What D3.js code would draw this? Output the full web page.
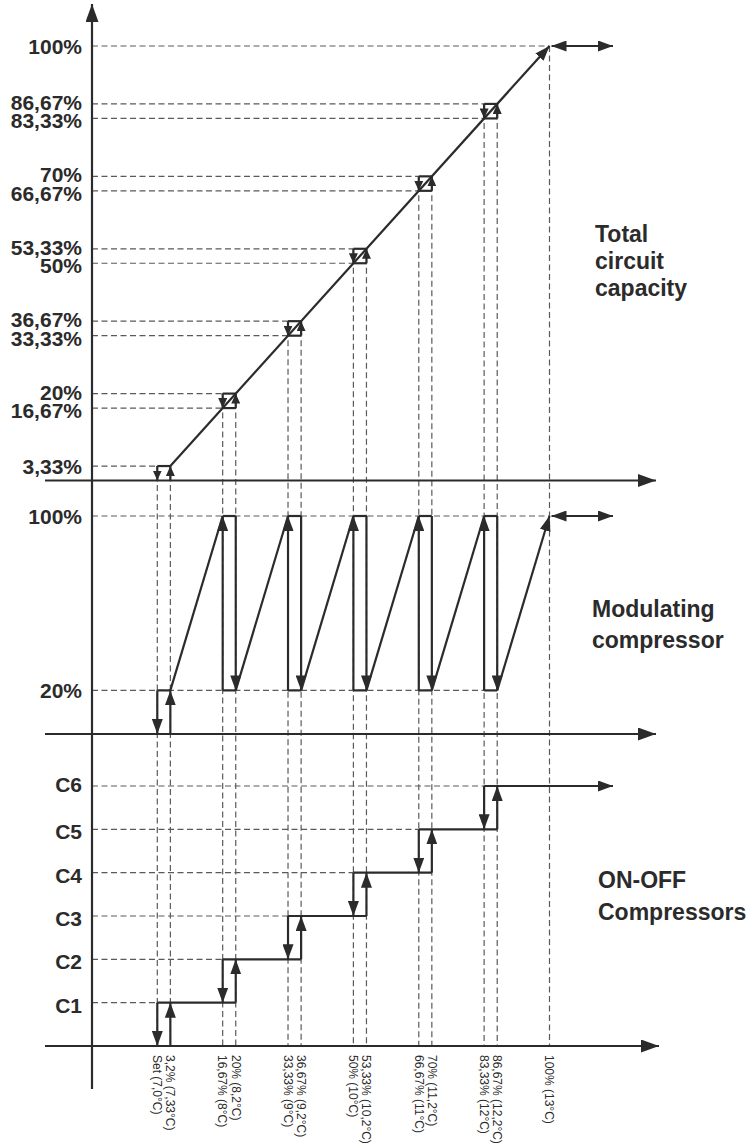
<!DOCTYPE html>
<html>
<head>
<meta charset="utf-8">
<script src="https://cdn.jsdelivr.net/npm/d3@7"></script>
<style>
  body { margin: 0; background: #fff; }
  svg { display: block; font-family: "Liberation Sans", Arial, sans-serif; }
  .dash { stroke: #5a5a5a; stroke-width: 1.2; stroke-dasharray: 6 3.5; fill: none; }
  .solid { stroke: #2b2b2b; stroke-width: 2.2; fill: none; }
  .tick-label { font-size: 21px; font-weight: bold; fill: #2b2b2b; }
  .title { font-size: 23px; font-weight: bold; fill: #2b2b2b; }
  .x-label { font-size: 12px; fill: #2b2b2b; }
</style>
</head>
<body>
<div id="wrapper"></div>
<script>
// capacity thresholds (% of total circuit capacity)
const capLow = [0, 16.67, 33.33, 50, 66.67, 83.33]
const capHigh = [3.33, 20, 36.67, 53.33, 70, 86.67]
const capFull = 100

const capTicks = [3.33, 16.67, 20, 33.33, 36.67, 50, 53.33, 66.67, 70, 83.33, 86.67, 100]
const capTickLabels = ["3,33%", "16,67%", "20%", "33,33%", "36,67%", "50%", "53,33%", "66,67%", "70%", "83,33%", "86,67%", "100%"]

const modMin = 20
const modMax = 100
const modTicks = [20, 100]
const modTickLabels = ["20%", "100%"]

const stepTicks = [1, 2, 3, 4, 5, 6]
const stepLabels = ["C1", "C2", "C3", "C4", "C5", "C6"]

const xLabelHigh = ["3,2% (7,33°C)", "20% (8,2°C)", "36,67% (9,2°C)", "53,33% (10,2°C)", "70% (11,2°C)", "86,67% (12,2°C)"]
const xLabelLow = ["Set (7,0°C)", "16,67% (8°C)", "33,33% (9°C)", "50% (10°C)", "66,67% (11°C)", "83,33% (12°C)"]
const xLabelFull = "100% (13°C)"

const titles = [
  { lines: ["Total", "circuit", "capacity"], x: 595, y: 242, gap: 27 },
  { lines: ["Modulating", "compressor"], x: 592, y: 617, gap: 31 },
  { lines: ["ON-OFF", "Compressors"], x: 598, y: 888, gap: 32 },
]

function draw() {
  const width = 752
  const height = 1148
  const axisX = 92
  const axisStart = 45
  const axisEnd = 656
  const arrowEnd = 613

  const svg = d3.select("#wrapper").append("svg")
      .attr("width", width)
      .attr("height", height)

  // markers
  const defs = svg.append("defs")
  const marker = (id, len, wid) => defs.append("marker")
      .attr("id", id)
      .attr("viewBox", "0 0 10 10")
      .attr("refX", 10).attr("refY", 5)
      .attr("markerUnits", "userSpaceOnUse")
      .attr("markerWidth", len).attr("markerHeight", wid)
      .attr("preserveAspectRatio", "none")
      .attr("orient", "auto-start-reverse")
    .append("path")
      .attr("d", "M0,0L10,5L0,10Z")
      .attr("fill", "#2b2b2b")
  marker("big", 18, 13)
  marker("mid", 15, 11)
  marker("small", 10, 9)

  // scales
  const xScale = d3.scaleLinear().domain([0, 100]).range([157.3, 549.5])
  const yTop = d3.scaleLinear().domain([0, 100]).range([480.5, 46])
  const yMid = d3.scaleLinear().domain([0, 100]).range([734, 516])
  const yBot = d3.scaleLinear().domain([0, 6]).range([1046, 786])

  const line = (g, x1, y1, x2, y2, cls, mEnd, mStart) => {
    const l = g.append("line")
        .attr("class", cls)
        .attr("x1", x1).attr("y1", y1)
        .attr("x2", x2).attr("y2", y2)
    if (mEnd) l.attr("marker-end", `url(#${mEnd})`)
    if (mStart) l.attr("marker-start", `url(#${mStart})`)
    return l
  }

  const grid = svg.append("g")
  const marks = svg.append("g")
  const axes = svg.append("g")

  // dashed guides
  capLow.forEach((lo, i) => {
    const hi = capHigh[i]
    line(grid, xScale(lo), yTop(hi), xScale(lo), yBot(0), "dash")
    line(grid, xScale(hi), yTop(hi), xScale(hi), yBot(0), "dash")
    line(grid, axisX, yTop(hi), xScale(lo), yTop(hi), "dash")
    if (lo > 0) line(grid, axisX, yTop(lo), xScale(lo), yTop(lo), "dash")
    line(grid, axisX, yBot(i + 1), xScale(lo), yBot(i + 1), "dash")
  })
  line(grid, xScale(capFull), yTop(capFull), xScale(capFull), yBot(0), "dash")
  line(grid, axisX, yTop(capFull), xScale(capFull), yTop(capFull), "dash")
  line(grid, axisX, yMid(modMax), xScale(capFull), yMid(modMax), "dash")
  line(grid, axisX, yMid(modMin), xScale(capLow[capLow.length - 1]), yMid(modMin), "dash")

  // total circuit capacity
  line(marks, xScale(capHigh[0]), yTop(capHigh[0]), xScale(capFull), yTop(capFull), "solid", "mid")
  capLow.forEach((lo, i) => {
    const hi = capHigh[i]
    line(marks, xScale(lo), yTop(hi), xScale(hi), yTop(hi), "solid")
    if (lo > 0) line(marks, xScale(lo), yTop(lo), xScale(hi), yTop(lo), "solid")
    line(marks, xScale(lo), yTop(hi), xScale(lo), yTop(lo), "solid", "small")
    line(marks, xScale(hi), yTop(lo), xScale(hi), yTop(hi), "solid", "small")
  })
  line(marks, xScale(capFull) + 2, yTop(capFull), arrowEnd, yTop(capFull), "solid", "mid", "mid")

  // modulating compressor
  line(marks, xScale(capLow[0]), yMid(modMin), xScale(capLow[0]), yMid(0), "solid", "mid")
  line(marks, xScale(capLow[0]), yMid(modMin), xScale(capHigh[0]), yMid(modMin), "solid")
  line(marks, xScale(capHigh[0]), yMid(0), xScale(capHigh[0]), yMid(modMin), "solid", "mid")
  capLow.forEach((lo, i) => {
    if (i === 0) return
    const hi = capHigh[i]
    line(marks, xScale(capHigh[i - 1]), yMid(modMin), xScale(lo), yMid(modMax), "solid")
    line(marks, xScale(lo), yMid(modMax), xScale(hi), yMid(modMax), "solid")
    line(marks, xScale(lo), yMid(modMin), xScale(hi), yMid(modMin), "solid")
    line(marks, xScale(lo), yMid(modMin), xScale(lo), yMid(modMax), "solid", "mid")
    line(marks, xScale(hi), yMid(modMax), xScale(hi), yMid(modMin), "solid", "mid")
  })
  line(marks, xScale(capHigh[capHigh.length - 1]), yMid(modMin), xScale(capFull), yMid(modMax), "solid", "mid")
  line(marks, xScale(capFull) + 2, yMid(modMax), arrowEnd, yMid(modMax), "solid", "mid", "mid")

  // on-off compressors
  capLow.forEach((lo, i) => {
    const hi = capHigh[i]
    line(marks, xScale(lo), yBot(i + 1), xScale(lo), yBot(i), "solid", "mid")
    line(marks, xScale(hi), yBot(i), xScale(hi), yBot(i + 1), "solid", "mid")
    if (i < capLow.length - 1) {
      line(marks, xScale(lo), yBot(i + 1), xScale(capHigh[i + 1]), yBot(i + 1), "solid")
    } else {
      line(marks, xScale(lo), yBot(i + 1), arrowEnd, yBot(i + 1), "solid", "mid")
    }
  })

  // axes
  line(axes, axisX, 1089, axisX, 4, "solid", "big")
  line(axes, axisStart, yTop(0), axisEnd, yTop(0), "solid", "big")
  line(axes, axisStart, yMid(0), axisEnd, yMid(0), "solid", "big")
  line(axes, axisStart, yBot(0), axisEnd + 3, yBot(0), "solid", "big")

  // close pairs of ticks are nudged apart a little, as in the original
  const nudge = (values, d) => {
    const i = values.indexOf(d)
    if (values.some(v => v !== d && v > d && v - d < 5)) return 2
    if (values.some(v => v !== d && v < d && d - v < 5)) return -2
    return 0
  }

  const leftAxis = (scale, values, labels) => {
    const g = axes.append("g")
        .attr("transform", `translate(${axisX},0)`)
        .call(d3.axisLeft(scale)
          .tickValues(values)
          .tickSize(0)
          .tickPadding(10)
          .tickFormat((d, i) => labels[i]))
    g.select(".domain").remove()
    g.selectAll("text")
        .attr("class", "tick-label")
        .attr("dy", "0.36em")
        .attr("y", d => nudge(values, d))
        .attr("fill", null)
    g.attr("font-family", null).attr("font-size", null)
  }
  leftAxis(yTop, capTicks, capTickLabels)
  leftAxis(yMid, modTicks, modTickLabels)
  leftAxis(yBot, stepTicks, stepLabels)

  // rotated x labels
  const xLabel = (xv, txt) => axes.append("text")
      .attr("class", "x-label")
      .attr("transform", `translate(${xScale(xv)},${yBot(0) + 9}) rotate(90)`)
      .attr("dy", "0.35em")
      .text(txt)
  capLow.forEach((lo, i) => {
    xLabel(lo, xLabelLow[i])
    xLabel(capHigh[i], xLabelHigh[i])
  })
  xLabel(capFull, xLabelFull)

  // panel titles
  titles.forEach(t => {
    const text = axes.append("text")
        .attr("class", "title")
        .attr("x", t.x)
        .attr("y", t.y)
    t.lines.forEach((l, i) => {
      text.append("tspan")
          .attr("x", t.x)
          .attr("dy", i === 0 ? 0 : t.gap)
          .text(l)
    })
  })
}
draw()
</script>
</body>
</html>
